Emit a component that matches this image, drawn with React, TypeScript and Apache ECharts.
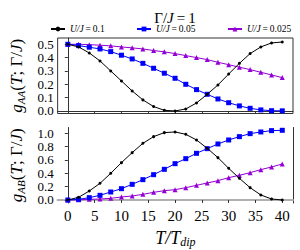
import React, { useEffect, useRef } from "react";
import * as echarts from "echarts";

const T = [0, 2, 4, 6, 8, 10, 12, 14, 16, 18, 20, 22, 24, 26, 28, 30, 32, 34, 36, 38, 40];

const gAA_01 = [0.5, 0.48, 0.435, 0.375, 0.3, 0.225, 0.15, 0.083, 0.033, 0.005, 0.0, 0.015, 0.06, 0.125, 0.195, 0.277, 0.357, 0.43, 0.48, 0.51, 0.517];
const gAA_005 = [0.5, 0.49, 0.478, 0.465, 0.445, 0.418, 0.39, 0.357, 0.32, 0.283, 0.245, 0.2, 0.16, 0.125, 0.09, 0.062, 0.038, 0.02, 0.008, 0.002, 0.001];
const gAA_0025 = [0.5, 0.5, 0.497, 0.493, 0.488, 0.48, 0.473, 0.465, 0.453, 0.443, 0.43, 0.415, 0.4, 0.385, 0.365, 0.347, 0.328, 0.31, 0.29, 0.27, 0.25];

const gAB_01 = [0, 0.04, 0.135, 0.25, 0.4, 0.56, 0.71, 0.85, 0.95, 1.01, 1.02, 0.985, 0.9, 0.775, 0.635, 0.475, 0.325, 0.185, 0.075, 0.015, 0.0];
const gAB_005 = [0, 0.01, 0.035, 0.07, 0.12, 0.17, 0.235, 0.305, 0.38, 0.46, 0.545, 0.62, 0.7, 0.77, 0.84, 0.9, 0.95, 0.995, 1.02, 1.04, 1.045];
const gAB_0025 = [0, 0.003, 0.01, 0.015, 0.025, 0.045, 0.06, 0.085, 0.115, 0.14, 0.155, 0.185, 0.22, 0.255, 0.29, 0.335, 0.37, 0.41, 0.455, 0.495, 0.54];

const xTicks = [0, 5, 10, 15, 20, 25, 30, 35, 40];
const yTicksAA = [0, 0.1, 0.2, 0.3, 0.4, 0.5];
const yTicksAB = [0, 0.2, 0.4, 0.6, 0.8, 1.0];

const seriesNames = ["U/J = 0.1", "U/J = 0.05", "U/J = 0.025"];
const legendValues = ["0.1", "0.05", "0.025"];
const seriesColors = ["#000000", "#0000ff", "#9400d3"];
const seriesSymbols = ["circle", "rect", "triangle"];
const seriesSizes = [3, 5, 5];

const FONT = "'Liberation Serif', 'DejaVu Serif', serif";
const AXIS_COLOR = "#333";

function pairs(ys: number[]) {
  return T.map((t, i) => [t, ys[i]]);
}
const evens = (a: number[]) => a.filter((_, i) => i % 2 === 0);
const odds = (a: number[]) => a.filter((_, i) => i % 2 === 1);

export default function App() {
  const ref = useRef<HTMLDivElement>(null);
  useEffect(() => {
    if (!ref.current) return;
    const chart = echarts.init(ref.current, null, { renderer: "svg" });

    const tickStyle = { show: true, inside: false, length: 3, lineStyle: { color: AXIS_COLOR, width: 1 } };
    const lineStyle = { show: true, lineStyle: { color: AXIS_COLOR, width: 1 } };
    const xLabelStyle = { fontFamily: FONT, fontSize: 15, color: "#000" };
    const yLabelStyle = { fontFamily: FONT, fontSize: 13, color: "#000" };

    const mk = (idx: number, ys: number[], xi: number, yi: number) => ({
      type: "line",
      name: seriesNames[idx],
      xAxisIndex: xi,
      yAxisIndex: yi,
      data: pairs(ys),
      symbol: seriesSymbols[idx],
      symbolSize: seriesSizes[idx],
      showAllSymbol: true,
      clip: false,
      lineStyle: { color: seriesColors[idx], width: 1 },
      itemStyle: { color: seriesColors[idx] },
      z: 3 - idx,
    });

    const legendLefts = [50, 136, 227];
    const legends = seriesNames.map((n, i) => ({
      data: [n],
      left: legendLefts[i],
      top: 24,
      itemWidth: 14,
      itemHeight: 6,
      padding: 0,
      selectedMode: false,
      formatter: () => "{i|U/J}{n|\u2009=\u2009" + legendValues[i] + "}",
      textStyle: {
        fontFamily: FONT,
        fontSize: 9.5,
        color: "#000",
        rich: {
          i: { fontFamily: FONT, fontSize: 9.5, fontStyle: "italic" },
          n: { fontFamily: FONT, fontSize: 9.5 },
        },
      },
    }));

    const yNameRich = {
      i: { fontFamily: FONT, fontSize: 17, fontStyle: "italic", lineHeight: 20, verticalAlign: "middle" },
      n: { fontFamily: FONT, fontSize: 17, lineHeight: 20, verticalAlign: "middle" },
      s: { fontFamily: FONT, fontSize: 11, fontStyle: "italic", lineHeight: 20, verticalAlign: "bottom" },
    };

    const yMain = (grid: number, min: number, max: number, ticks: number[], name: string) => ({
      type: "value", gridIndex: grid, min, max, position: "left",
      axisLine: lineStyle,
      axisTick: { ...tickStyle, customValues: ticks },
      axisLabel: {
        ...yLabelStyle, margin: 4, customValues: evens(ticks),
        showMinLabel: true, showMaxLabel: true, hideOverlap: false,
        formatter: (v: number) => v.toFixed(1),
      },
      splitLine: { show: false },
      name,
      nameLocation: "middle",
      nameGap: 29,
      nameRotate: 90,
      nameTextStyle: { color: "#000", rich: yNameRich },
    });
    const ySecond = (grid: number, min: number, max: number, ticks: number[]) => ({
      type: "value", gridIndex: grid, min, max, position: "left", offset: 0,
      axisLine: { show: false },
      axisTick: { show: false },
      axisLabel: {
        ...yLabelStyle, margin: 4, customValues: odds(ticks),
        showMinLabel: true, showMaxLabel: true, hideOverlap: false,
        formatter: (v: number) => v.toFixed(1),
      },
      splitLine: { show: false },
    });

    const option: any = {
      animation: false,
      backgroundColor: "#fff",
      title: {
        text: "{n|Γ/}{i|J}{n|\u2009=\u20091}",
        left: 170,
        top: 5,
        textAlign: "center",
        textStyle: {
          fontWeight: "normal",
          rich: {
            n: { fontFamily: FONT, fontSize: 15, fontWeight: "normal", color: "#000" },
            i: { fontFamily: FONT, fontSize: 15, fontWeight: "normal", fontStyle: "italic", color: "#000" },
          },
        },
      },
      legend: legends,
      grid: [
        { left: 48, right: 7, top: 38, height: 75.5, show: true, borderColor: AXIS_COLOR, borderWidth: 1 },
        { left: 48, right: 7, top: 127.5, height: 75.5, show: false },
      ],
      xAxis: [
        {
          type: "value", gridIndex: 0, min: -1.9, max: 42, position: "bottom",
          axisLine: lineStyle,
          axisTick: { ...tickStyle, customValues: xTicks },
          axisLabel: { show: false, customValues: xTicks },
          splitLine: { show: false },
        },
        {
          type: "value", gridIndex: 1, min: -1.9, max: 42, position: "bottom",
          axisLine: lineStyle,
          axisTick: { ...tickStyle, customValues: xTicks },
          axisLabel: {
            ...xLabelStyle, margin: 5, customValues: xTicks,
            showMinLabel: true, showMaxLabel: true, hideOverlap: false,
            formatter: (v: number) => String(v),
          },
          splitLine: { show: false },
          name: "{i|T}{i|/T}{s|dip}",
          nameLocation: "middle",
          nameGap: 25,
          nameTextStyle: {
            rich: {
              i: { fontFamily: FONT, fontSize: 18, fontStyle: "italic", color: "#000", lineHeight: 20, verticalAlign: "middle" },
              s: { fontFamily: FONT, fontSize: 12, fontStyle: "italic", color: "#000", lineHeight: 20, verticalAlign: "bottom" },
            },
          },
        },
        {
          type: "value", gridIndex: 1, min: -1.9, max: 42, position: "top",
          axisLine: { show: true, lineStyle: { color: "#b0b0b0", width: 2 } },
          axisTick: { show: false },
          axisLabel: { show: false },
          splitLine: { show: false },
        },
      ],
      yAxis: [
        yMain(0, -0.019, 0.547, yTicksAA, "{i|g}{s|AA}{n|(}{i|T}{n|; Γ/}{i|J}{n|)}"),
        ySecond(0, -0.019, 0.547, yTicksAA),
        yMain(1, -0.045, 1.087, yTicksAB, "{i|g}{s|AB}{n|(}{i|T}{n|; Γ/}{i|J}{n|)}"),
        ySecond(1, -0.045, 1.087, yTicksAB),
        {
          type: "value", gridIndex: 1, min: -0.045, max: 1.087, position: "right",
          axisLine: lineStyle,
          axisTick: { show: false },
          axisLabel: { show: false },
          splitLine: { show: false },
        },
      ],
      series: [
        mk(0, gAA_01, 0, 0),
        mk(1, gAA_005, 0, 0),
        mk(2, gAA_0025, 0, 0),
        mk(0, gAB_01, 1, 2),
        mk(1, gAB_005, 1, 2),
        mk(2, gAB_0025, 1, 2),
      ],
    };
    chart.setOption(option);
    return () => chart.dispose();
  }, []);

  return <div ref={ref} style={{ width: 300, height: 250, position: "absolute", left: 0, top: 0 }} />;
}
